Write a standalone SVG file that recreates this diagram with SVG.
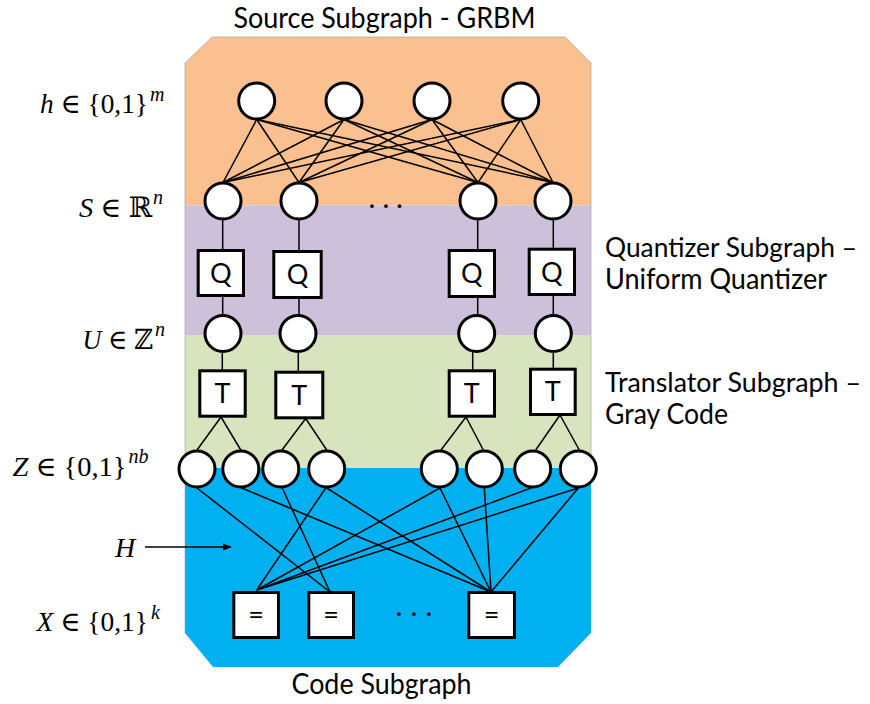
<svg xmlns="http://www.w3.org/2000/svg" width="870" height="704" viewBox="0 0 870 704">
  <defs>
    <marker id="arrowHead" viewBox="0 0 10 10" refX="9" refY="5" markerWidth="6" markerHeight="6" markerUnits="strokeWidth" orient="auto">
      <path d="M0,1 L10,5 L0,9 Z" fill="#000"/>
    </marker>
    <style>
      .label { font-family: "Lato", "Open Sans", "Liberation Sans", sans-serif; font-size: 29px; fill: #000; }
      .label.long { font-size: 27px; }
      .op { font-family: "Lato", "Open Sans", "Liberation Sans", sans-serif; font-size: 27px; fill: #000; text-anchor: middle; }
      .math { font-family: "Liberation Serif", "DejaVu Serif", serif; font-size: 28px; fill: #000; }
      .sup { font-family: "Liberation Serif", "DejaVu Serif", serif; font-size: 20px; font-style: italic; fill: #000; }
      .it { font-style: italic; }
      .node circle { fill: #fff; stroke: #000; stroke-width: 3; }
      .node rect { fill: #fff; stroke: #000; stroke-width: 3; }
      .edges line { stroke: #000; stroke-width: 1.5; }
      .dots { font-family: "Lato", "Liberation Sans", sans-serif; font-size: 29px; fill: #000; }
    </style>
  </defs>

  <!-- subgraph bands -->
  <g id="bands">
    <polygon id="band-source" points="185,63 212,37 565,37 591,63 591,205.5 185,205.5" fill="#FAC090"/>
    <rect id="band-quantizer" x="185" y="205.5" width="406" height="129.5" fill="#CCC0DA"/>
    <rect id="band-translator" x="185" y="335" width="406" height="133" fill="#D7E4BD"/>
    <polygon id="band-code" points="185,468 591,468 591,633 558,667 213,667 185,633" fill="#00B0F0"/>
    <polyline points="185,633 185,63 212,37 565,37 591,63 591,468" fill="none" stroke="#9a9a9a" stroke-opacity="0.6" stroke-width="1"/>
  </g>

  <!-- band captions -->
  <text class="label" x="233.5" y="28.3" textLength="302" lengthAdjust="spacingAndGlyphs">Source Subgraph - GRBM</text>
  <text class="label long" x="605" y="256.5" textLength="252" lengthAdjust="spacingAndGlyphs">Quantizer Subgraph –</text>
  <text class="label" x="605" y="289" textLength="222" lengthAdjust="spacingAndGlyphs">Uniform Quantizer</text>
  <text class="label long" x="605" y="391.5" textLength="256" lengthAdjust="spacingAndGlyphs">Translator Subgraph –</text>
  <text class="label" x="605" y="424" textLength="123" lengthAdjust="spacingAndGlyphs">Gray Code</text>
  <text class="label" x="291.5" y="694" textLength="180" lengthAdjust="spacingAndGlyphs">Code Subgraph</text>

  <!-- variable labels -->
  <g id="var-labels">
    <text class="math" x="40" y="113" textLength="108" lengthAdjust="spacingAndGlyphs"><tspan class="it">h</tspan> ∈ {0,1}</text>
    <text class="sup" x="150" y="101">m</text>

    <text class="math" x="79" y="216.5" textLength="73" lengthAdjust="spacingAndGlyphs"><tspan class="it">S</tspan> ∈ ℝ</text>
    <text class="sup" x="153" y="204">n</text>

    <text class="math" x="82.5" y="348.5" textLength="70.5" lengthAdjust="spacingAndGlyphs"><tspan class="it">U</tspan> ∈ ℤ</text>
    <text class="sup" x="155" y="336">n</text>

    <text class="math" x="12.5" y="476" textLength="114" lengthAdjust="spacingAndGlyphs"><tspan class="it">Z</tspan> ∈ {0,1}</text>
    <text class="sup" x="128.5" y="463">nb</text>

    <text class="math it" x="115" y="557">H</text>

    <text class="math" x="36.5" y="631" textLength="111.5" lengthAdjust="spacingAndGlyphs"><tspan class="it">X</tspan> ∈ {0,1}</text>
    <text class="sup" x="151" y="619">k</text>
  </g>

  <!-- connectors -->
  <g id="connectors" class="edges">
    <!-- h to S, fully connected -->
    <line x1="256.7" y1="119.5" x2="223" y2="182.5"/>
    <line x1="256.7" y1="119.5" x2="299" y2="182.5"/>
    <line x1="256.7" y1="119.5" x2="478" y2="182.5"/>
    <line x1="256.7" y1="119.5" x2="553" y2="182.5"/>
    <line x1="344" y1="119.5" x2="223" y2="182.5"/>
    <line x1="344" y1="119.5" x2="299" y2="182.5"/>
    <line x1="344" y1="119.5" x2="478" y2="182.5"/>
    <line x1="344" y1="119.5" x2="553" y2="182.5"/>
    <line x1="432" y1="119.5" x2="223" y2="182.5"/>
    <line x1="432" y1="119.5" x2="299" y2="182.5"/>
    <line x1="432" y1="119.5" x2="478" y2="182.5"/>
    <line x1="432" y1="119.5" x2="553" y2="182.5"/>
    <line x1="520.7" y1="119.5" x2="223" y2="182.5"/>
    <line x1="520.7" y1="119.5" x2="299" y2="182.5"/>
    <line x1="520.7" y1="119.5" x2="478" y2="182.5"/>
    <line x1="520.7" y1="119.5" x2="553" y2="182.5"/>

    <!-- S to Q to U -->
    <line x1="222.7" y1="220" x2="222.7" y2="250"/>
    <line x1="299" y1="220" x2="299" y2="251"/>
    <line x1="477.7" y1="220" x2="477.7" y2="250"/>
    <line x1="553.3" y1="220" x2="553.3" y2="249"/>
    <line x1="222.7" y1="296" x2="222.7" y2="315"/>
    <line x1="299" y1="297" x2="299" y2="315"/>
    <line x1="477.7" y1="297" x2="477.7" y2="315"/>
    <line x1="553.3" y1="295" x2="553.3" y2="315"/>

    <!-- U to T -->
    <line x1="222.3" y1="352" x2="222.3" y2="371"/>
    <line x1="298.3" y1="352" x2="298.3" y2="372"/>
    <line x1="472.7" y1="352" x2="472.7" y2="371"/>
    <line x1="553.3" y1="352" x2="553.3" y2="369"/>

    <!-- T to Z -->
    <line x1="221" y1="417" x2="197" y2="450"/>
    <line x1="221" y1="417" x2="240.8" y2="450"/>
    <line x1="305.7" y1="418.5" x2="282" y2="450"/>
    <line x1="305.7" y1="418.5" x2="326.7" y2="450"/>
    <line x1="466" y1="417" x2="441" y2="450"/>
    <line x1="466" y1="417" x2="483.3" y2="450"/>
    <line x1="560" y1="415" x2="535.7" y2="450"/>
    <line x1="560" y1="415" x2="579.3" y2="450"/>

    <!-- Z to parity checks -->
    <line x1="197" y1="488" x2="330" y2="592"/>
    <line x1="241.7" y1="488" x2="491" y2="592"/>
    <line x1="282.3" y1="488" x2="330" y2="592"/>
    <line x1="325.7" y1="488" x2="256.7" y2="590"/>
    <line x1="326.7" y1="488" x2="491" y2="592"/>
    <line x1="440" y1="488" x2="256.7" y2="590"/>
    <line x1="440" y1="488" x2="491" y2="592"/>
    <line x1="484.3" y1="488" x2="491" y2="592"/>
    <line x1="531" y1="488" x2="256.7" y2="590"/>
    <line x1="578.3" y1="488" x2="256.7" y2="590"/>
    <line x1="578.3" y1="488" x2="491" y2="592"/>

    <!-- pointer to H -->
    <line x1="145" y1="547" x2="231" y2="547" marker-end="url(#arrowHead)"/>
  </g>

  <!-- h layer -->
  <g id="h1" class="node"><circle cx="256.7" cy="101" r="18"/></g>
  <g id="h2" class="node"><circle cx="344" cy="101" r="18"/></g>
  <g id="h3" class="node"><circle cx="432" cy="101" r="18"/></g>
  <g id="h4" class="node"><circle cx="520.7" cy="101" r="18"/></g>

  <!-- S layer -->
  <g id="s1" class="node"><circle cx="223" cy="201" r="18"/></g>
  <g id="s2" class="node"><circle cx="299" cy="201" r="18"/></g>
  <g id="s3" class="node"><circle cx="478" cy="201" r="18"/></g>
  <g id="s4" class="node"><circle cx="553" cy="201" r="18"/></g>
  <text class="dots" x="368.5 382.5 396" y="208">...</text>

  <!-- quantizers -->
  <g id="q1" class="node"><rect x="198.2" y="250.5" width="45.3" height="45"/><text class="op" x="220.8" y="282.7">Q</text></g>
  <g id="q2" class="node"><rect x="273.8" y="251.5" width="47.4" height="46"/><text class="op" x="297.5" y="284.2">Q</text></g>
  <g id="q3" class="node"><rect x="449.2" y="250.5" width="45.3" height="46"/><text class="op" x="471.8" y="283.2">Q</text></g>
  <g id="q4" class="node"><rect x="529.2" y="249.2" width="45.3" height="45.3"/><text class="op" x="551.8" y="281.7">Q</text></g>

  <!-- U layer -->
  <g id="u1" class="node"><circle cx="223" cy="333.5" r="18"/></g>
  <g id="u2" class="node"><circle cx="298" cy="333.5" r="18"/></g>
  <g id="u3" class="node"><circle cx="476.7" cy="333.5" r="18"/></g>
  <g id="u4" class="node"><circle cx="553.3" cy="333.5" r="18"/></g>

  <!-- translators -->
  <g id="t1" class="node"><rect x="199.8" y="370.8" width="45.4" height="45.4"/><text class="op" x="222.5" y="403">T</text></g>
  <g id="t2" class="node"><rect x="275.8" y="372.2" width="47" height="45.6"/><text class="op" x="299.3" y="404.5">T</text></g>
  <g id="t3" class="node"><rect x="449.2" y="370.8" width="45.3" height="45.4"/><text class="op" x="471.8" y="403">T</text></g>
  <g id="t4" class="node"><rect x="530.5" y="369.2" width="44.7" height="45.3"/><text class="op" x="552.8" y="401.3">T</text></g>

  <!-- Z layer -->
  <g id="z1" class="node"><circle cx="197" cy="469" r="18"/></g>
  <g id="z2" class="node"><circle cx="240.8" cy="469" r="18"/></g>
  <g id="z3" class="node"><circle cx="280.8" cy="469" r="18"/></g>
  <g id="z4" class="node"><circle cx="326.7" cy="469" r="18"/></g>
  <g id="z5" class="node"><circle cx="439.3" cy="469" r="18"/></g>
  <g id="z6" class="node"><circle cx="484.3" cy="469" r="18"/></g>
  <g id="z7" class="node"><circle cx="532.7" cy="469" r="18"/></g>
  <g id="z8" class="node"><circle cx="578.3" cy="469" r="18"/></g>

  <!-- parity checks -->
  <g id="x1" class="node"><rect x="233.8" y="592.5" width="44.7" height="45"/><text class="op" x="256.2" y="624">=</text></g>
  <g id="x2" class="node"><rect x="308.8" y="592.5" width="44.7" height="45"/><text class="op" x="331.2" y="624">=</text></g>
  <g id="x3" class="node"><rect x="468.8" y="592.5" width="45.7" height="45"/><text class="op" x="491.7" y="624">=</text></g>
  <text class="dots" x="395.5 410.5 425.5" y="616">...</text>
</svg>
